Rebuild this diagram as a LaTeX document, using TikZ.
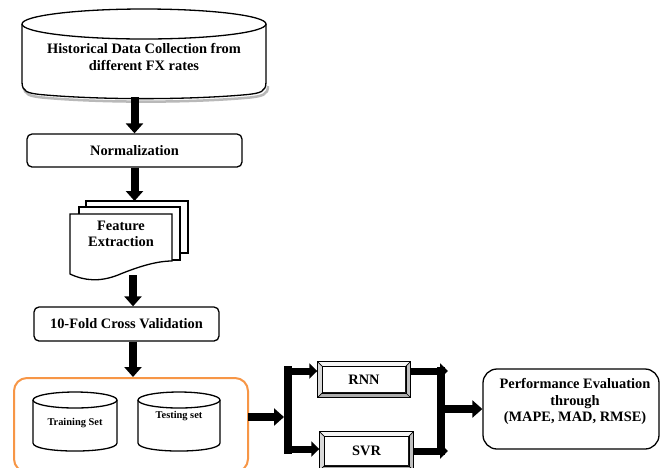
\documentclass[tikz,border=0pt]{standalone}
\usepackage{fontspec}
\setmainfont{Liberation Serif}
\usetikzlibrary{arrows.meta,calc}
\definecolor{orangeF}{RGB}{247,150,70}
\tikzset{
  lbl/.style={font=\bfseries\fontsize{14.4}{16.5}\selectfont, align=center, inner sep=0pt},
  smalllbl/.style={font=\bfseries\fontsize{10.4}{12}\selectfont, align=center, inner sep=0pt},
  rbox/.style={draw, line width=1.3pt, rounded corners=5pt, inner sep=0pt, font=\bfseries\fontsize{14.4}{16.5}\selectfont, align=center},
  bigarrow/.style={line width=8pt, -{Triangle[length=10pt,width=17pt]}},
  medarrow/.style={line width=7pt, -{Triangle[length=8pt,width=15pt]}},
  thickline/.style={line width=8pt},
  docshape/.style={draw, fill=white, line width=1.3pt},
  cyl/.style={draw, fill=white, line width=1.3pt},
  outerbev/.style={draw, line width=1.4pt, fill=gray!25, inner sep=0pt},
  innerbev/.style={draw, line width=0.8pt, fill=white, inner sep=0pt, font=\bfseries\fontsize{14.4}{16.5}\selectfont},
  bevtop/.style={fill=gray!8},
  bevleft/.style={fill=gray!30},
  bevbot/.style={fill=gray!65},
  bevright/.style={fill=gray!50},
}
\begin{document}
\begin{tikzpicture}[x=1pt,y=-1pt]
\clip (0,0) rectangle (660,467);
\fill[white] (0,0) rectangle (660,467);

% top cylinder with shadow
\draw[gray!55, line width=2.5pt] (24,86) .. controls (24,95) and (30,96) .. (42,97.5) .. controls (102,103) and (190,103) .. (250,97.5) .. controls (262,96) and (268,95) .. (268,86);
\draw[cyl] (22,24) -- (22,82) .. controls (22,92) and (28,93) .. (40,94.5) .. controls (100,100) and (188,100) .. (248,94.5) .. controls (260,93) and (266,92) .. (266,82) -- (266,24);
\draw[cyl] (144,24) ellipse [x radius=122, y radius=15];
\node[lbl] (hist) at (144,57) {Historical Data Collection from\\different FX rates};
\coordinate (histbot) at (134.5,97);

% normalization
\node[rbox, minimum width=215pt, minimum height=33pt] (norm) at (134.5,150.5) {Normalization};

% document stack
\draw[docshape] (86,201) rectangle (188,253);
\draw[docshape] (79,207) rectangle (180,260);
\draw[docshape] (70,214) -- (70,274) .. controls (85,281) and (100,282) .. (118,275) .. controls (135,268) and (155,261) .. (172,261) -- (172,214) -- cycle;
\node[lbl] (fe) at (121,234) {Feature\\Extraction};
\coordinate (fetop) at (134.5,201);
\coordinate (febot) at (133,275);

% 10-fold
\node[rbox, minimum width=185pt, minimum height=34pt] (fold) at (126.5,324) {10-Fold Cross Validation};

% orange group
\node[draw=orangeF, line width=2pt, rounded corners=13pt, minimum width=234pt, minimum height=94pt, inner sep=0pt] (grp) at (131,425) {};

% training cylinder
\draw[cyl] (33,400) -- (33,443) .. controls (33,453.7) and (117,453.7) .. (117,443) -- (117,400);
\draw[cyl] (75,400) ellipse [x radius=42, y radius=8];
\node[smalllbl] (train) at (75,423) {Training Set};
% testing cylinder
\draw[cyl] (138,400) -- (138,443) .. controls (138,453.7) and (220,453.7) .. (220,443) -- (220,400);
\draw[cyl] (179,400) ellipse [x radius=41, y radius=8];
\node[smalllbl] (test) at (179,416) {Testing set};

% RNN / SVR (bevelled boxes)
\node[outerbev, minimum width=92pt, minimum height=35pt] (rnn) at (364,379.5) {};
\node[innerbev, minimum width=83pt, minimum height=26pt] (rnnin) at (364,379.5) {};
\node[outerbev, minimum width=93pt, minimum height=38pt] (svr) at (366.5,451) {};
\node[innerbev, minimum width=84pt, minimum height=29pt] (svrin) at (366.5,451) {};
\foreach \o/\i in {rnn/rnnin, svr/svrin}{
  \fill[bevtop] (\o.north west) -- (\o.north east) -- (\i.north east) -- (\i.north west) -- cycle;
  \fill[bevleft] (\o.north west) -- (\i.north west) -- (\i.south west) -- (\o.south west) -- cycle;
  \fill[bevbot] (\o.south west) -- (\o.south east) -- (\i.south east) -- (\i.south west) -- cycle;
  \fill[bevright] (\o.north east) -- (\o.south east) -- (\i.south east) -- (\i.north east) -- cycle;
  \draw[line width=1.4pt] (\o.north west) rectangle (\o.south east);
  \draw[line width=0.8pt] (\i.north west) rectangle (\i.south east);
  \foreach \a in {north west,north east,south west,south east} \draw[line width=0.7pt] (\o.\a) -- (\i.\a);
}
\node[lbl] (rnntxt) at (rnnin.center) {RNN};
\node[lbl] (svrtxt) at (svrin.center) {SVR};

% performance
\node[draw, line width=1.3pt, rounded corners=14pt, minimum width=176pt, minimum height=80pt, inner sep=0pt] (perf) at (571,409) {};
\node[lbl] (perftxt) at (575,401.5) {Performance Evaluation\\through\\(MAPE, MAD, RMSE)};

% connectors
\draw[bigarrow] (histbot) -- (norm.north);
\draw[bigarrow] (norm.south) -- (fetop);
\draw[bigarrow] (febot) -- (febot |- fold.north);
\draw[bigarrow] (febot |- fold.south) -- (febot |- grp.north);

\coordinate (ent) at (248,417);
\coordinate (bin) at (284,417);
\draw[bigarrow] (ent) -- (bin);

\coordinate (bt) at (288,371);
\coordinate (bb) at (288,449);
\draw[thickline] ($(bt)+(0,-5)$) -- ($(bb)+(0,5)$);
\draw[medarrow] ($(bt)+(-4,0)$) -- (bt -| rnn.west);
\draw[medarrow] ($(bb)+(-4,0)$) -- (bb -| svr.west);

\coordinate (rt) at (441,371);
\coordinate (rb) at (441,451);
\coordinate (rte) at (448,371);
\coordinate (rbe) at (448,451);
\coordinate (rm) at (441,409);
\draw[thickline] ($(rt)+(0,-4)$) -- ($(rb)+(0,4)$);
\draw[medarrow] (rt -| rnn.east) -- (rte);
\draw[medarrow] (rb -| svr.east) -- (rbe);
\draw[bigarrow] (rm) -- (perf.west);
\end{tikzpicture}
\end{document}
